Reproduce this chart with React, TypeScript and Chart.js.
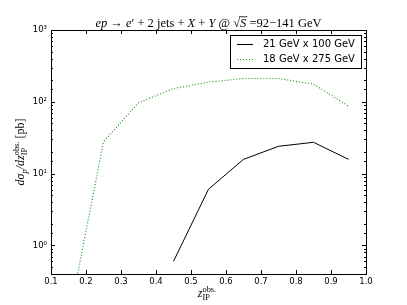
import React, { useEffect, useRef } from 'react';
import { Chart, registerables } from 'chart.js';

Chart.register(...registerables);

// ---- data ----
const zBins = [0.15, 0.25, 0.35, 0.45, 0.55, 0.65, 0.75, 0.85, 0.95];
const lowEnergy = [null, null, null, 0.6, 6.07, 15.8, 24, 27.3, 15.8];
const highEnergy = [0.09, 27.8, 97, 153, 188, 211, 211, 176, 87];
const seriesLabels = ['21 GeV x 100 GeV', '18 GeV x 275 GeV'];
const xRange = [0.1, 1.0];
const yRange = [0.4, 1000];
const supDigits: Record<string, string> = { '-': '⁻', '0': '⁰', '1': '¹', '2': '²', '3': '³' };

type Seg = { t: string; it?: boolean; s?: number; dy?: number; over?: boolean; stackNext?: boolean };

function fontOf(sg: Seg, size: number, family: string) {
  return `${sg.it ? 'italic ' : ''}${size * (sg.s || 1)}px ${family}`;
}

function drawRich(ctx: CanvasRenderingContext2D, segs: Seg[], cx: number, cy: number, size: number, family: string, rot = 0) {
  const items: { sg: Seg; x: number; f: string; w: number }[] = [];
  let x = 0;
  for (let i = 0; i < segs.length; i++) {
    const sg = segs[i];
    const f = fontOf(sg, size, family);
    ctx.font = f;
    const w = ctx.measureText(sg.t).width;
    if (sg.stackNext && segs[i + 1]) {
      const n = segs[i + 1];
      const f2 = fontOf(n, size, family);
      ctx.font = f2;
      const w2 = ctx.measureText(n.t).width;
      items.push({ sg, x, f, w });
      items.push({ sg: n, x, f: f2, w: w2 });
      x += Math.max(w, w2);
      i++;
    } else {
      items.push({ sg, x, f, w });
      x += w;
    }
  }
  const total = x;
  ctx.save();
  ctx.translate(cx, cy);
  ctx.rotate(rot);
  ctx.fillStyle = '#000';
  ctx.strokeStyle = '#000';
  ctx.textAlign = 'left';
  ctx.textBaseline = 'alphabetic';
  for (const it of items) {
    ctx.font = it.f;
    const px = it.x - total / 2;
    const py = it.sg.dy || 0;
    ctx.fillText(it.sg.t, px, py);
    if (it.sg.over) {
      ctx.lineWidth = 0.8;
      ctx.beginPath();
      ctx.moveTo(px - 1, py - size * 0.82);
      ctx.lineTo(px + it.w + 1, py - size * 0.82);
      ctx.stroke();
    }
  }
  ctx.restore();
}

const decorPlugin = {
  id: 'decor',
  afterDraw(chart: any) {
    const ctx: CanvasRenderingContext2D = chart.ctx;
    const a = chart.chartArea;
    const xs = chart.scales.x;
    const ys = chart.scales.y;
    ctx.save();
    // frame
    ctx.strokeStyle = '#000';
    ctx.lineWidth = 1;
    ctx.strokeRect(Math.round(a.left) + 0.5, Math.round(a.top) + 0.5, Math.round(a.right - a.left), Math.round(a.bottom - a.top));
    // x ticks (inward, top and bottom)
    ctx.beginPath();
    for (const t of xs.ticks) {
      const px = Math.round(xs.getPixelForValue(t.value)) + 0.5;
      ctx.moveTo(px, a.bottom);
      ctx.lineTo(px, a.bottom - 4);
      ctx.moveTo(px, a.top);
      ctx.lineTo(px, a.top + 4);
    }
    // y ticks
    for (const t of ys.ticks) {
      const lg = Math.log10(t.value);
      const major = Math.abs(lg - Math.round(lg)) < 1e-9;
      const len = major ? 4 : 2;
      const py = Math.round(ys.getPixelForValue(t.value)) + 0.5;
      ctx.moveTo(a.left, py);
      ctx.lineTo(a.left + len, py);
      ctx.moveTo(a.right, py);
      ctx.lineTo(a.right - len, py);
    }
    ctx.stroke();

    // legend
    const lx = 230, ly = 35, lw = 131, lh = 33;
    ctx.fillStyle = '#fff';
    ctx.fillRect(lx, ly, lw, lh);
    ctx.strokeRect(lx + 0.5, ly + 0.5, lw, lh);
    const rows = [44, 59];
    chart.data.datasets.forEach((ds: any, i: number) => {
      const y = rows[i] + 0.5;
      ctx.beginPath();
      ctx.strokeStyle = ds.borderColor;
      ctx.lineWidth = ds.borderWidth;
      ctx.setLineDash(ds.borderDash || []);
      ctx.moveTo(237, y);
      ctx.lineTo(253, y);
      ctx.stroke();
      ctx.setLineDash([]);
      ctx.fillStyle = '#000';
      ctx.font = '10px "DejaVu Sans"';
      ctx.textAlign = 'left';
      ctx.textBaseline = 'middle';
      ctx.fillText(ds.label, 263, rows[i] + 0.5);
    });
    ctx.restore();

    const serif = '"Liberation Serif"';
    // title
    drawRich(ctx, [
      { t: 'ep', it: true },
      { t: ' → ' },
      { t: 'e', it: true },
      { t: '′' },
      { t: ' + 2 jets + ' },
      { t: 'X', it: true },
      { t: ' + ' },
      { t: 'Y', it: true },
      { t: ' @ √' },
      { t: 'S', it: true, over: true },
      { t: ' =92−141 GeV' },
    ], (a.left + a.right) / 2, 27, 12.5, serif);

    // y label
    drawRich(ctx, [
      { t: 'dσ', it: true },
      { t: 'p', it: true, s: 0.7, dy: 3 },
      { t: '/d', it: true },
      { t: 'z', it: true },
      { t: 'IP', s: 0.7, dy: 3, stackNext: true },
      { t: 'obs.', s: 0.7, dy: -5 },
      { t: ' [pb]' },
    ], 24, (a.top + a.bottom) / 2, 12, serif, -Math.PI / 2);

    // x label
    drawRich(ctx, [
      { t: 'z', it: true },
      { t: 'IP', s: 0.7, dy: 3, stackNext: true },
      { t: 'obs.', s: 0.7, dy: -5 },
    ], 207, 297, 12, serif);
  },
};

export default function App() {
  const ref = useRef<HTMLCanvasElement>(null);
  useEffect(() => {
    if (!ref.current) return;
    const chart = new Chart(ref.current, {
      type: 'line',
      data: {
        datasets: [
          {
            label: seriesLabels[0],
            data: zBins.map((x, i) => ({ x, y: lowEnergy[i] })) as any,
            borderColor: '#000000',
            borderWidth: 1,
            pointRadius: 0,
            fill: false,
            spanGaps: false,
          },
          {
            label: seriesLabels[1],
            data: zBins.map((x, i) => ({ x, y: highEnergy[i] })) as any,
            borderColor: '#1a9a1a',
            borderWidth: 1.2,
            borderDash: [1, 2],
            pointRadius: 0,
            fill: false,
          },
        ],
      },
      options: {
        animation: false,
        responsive: false,
        events: [],
        layout: { padding: { top: 30, right: 41, left: 0, bottom: 0 } },
        plugins: { legend: { display: false }, title: { display: false }, tooltip: { enabled: false } },
        scales: {
          x: {
            type: 'linear',
            min: xRange[0],
            max: xRange[1],
            grid: { display: false, drawTicks: false },
            border: { display: false },
            afterFit: (s: any) => { s.height = 31; },
            ticks: {
              stepSize: 0.1,
              autoSkip: false,
              maxRotation: 0,
              padding: 3,
              color: '#000',
              font: { family: '"DejaVu Sans"', size: 8.5 },
              callback: (v: any) => Number(v).toFixed(1),
            },
          },
          y: {
            type: 'logarithmic',
            min: yRange[0],
            max: yRange[1],
            grid: { display: false, drawTicks: false },
            border: { display: false },
            afterFit: (s: any) => { s.width = 51; },
            ticks: {
              autoSkip: false,
              padding: 4,
              color: '#000',
              font: { family: '"DejaVu Sans"', size: 8.5 },
              callback: (v: any) => {
                const lg = Math.log10(Number(v));
                if (Math.abs(lg - Math.round(lg)) > 1e-9) return '';
                const e = String(Math.round(lg)).split('').map((c) => supDigits[c] || c).join('');
                return '10' + e;
              },
            },
          },
        },
      },
      plugins: [decorPlugin],
    });
    return () => chart.destroy();
  }, []);
  return (
    <div style={{ position: 'fixed', left: 0, top: 0, width: 407, height: 305, background: '#fff' }}>
      <canvas ref={ref} width={407} height={305} />
    </div>
  );
}
